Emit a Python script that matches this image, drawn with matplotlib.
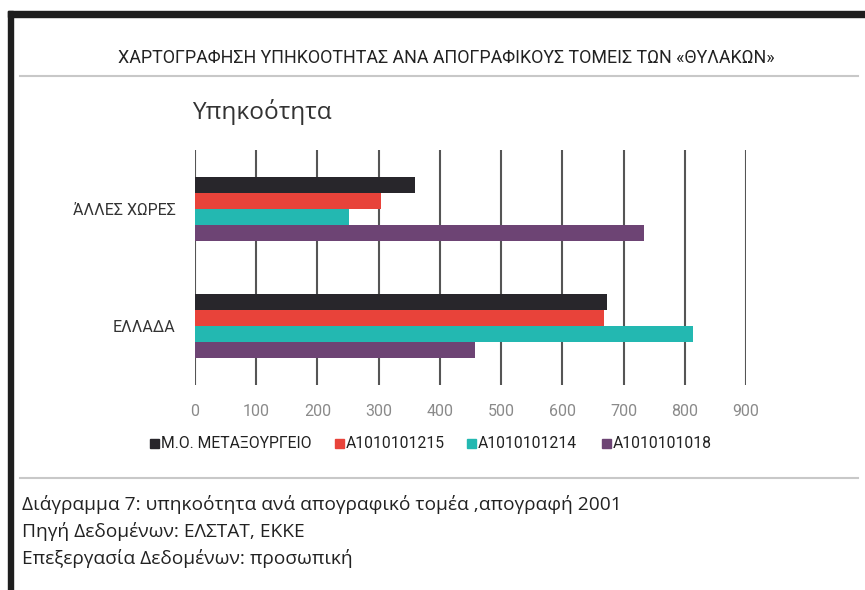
import matplotlib
matplotlib.use("Agg")
import matplotlib.pyplot as plt
from matplotlib.lines import Line2D
from matplotlib.patches import Rectangle
import numpy as np

# data
categories = ["ΕΛΛΑΔΑ", "ΆΛΛΕΣ ΧΩΡΕΣ"]
series_names = ["Μ.Ο. ΜΕΤΑΞΟΥΡΓΕΙΟ", "Α1010101215", "Α1010101214", "Α1010101018"]
metaxourgeio = [673, 360]
a1215 = [668, 304]
a1214 = [813, 252]
a1018 = [458, 734]
xticks = [0, 100, 200, 300, 400, 500, 600, 700, 800, 900]

colors = ["#28262b", "#e8433a", "#23b8b1", "#6d4474"]
narrow = ["Roboto", "DejaVu Sans"]
regular = ["Open Sans", "DejaVu Sans"]

fig = plt.figure(figsize=(8.65, 5.9), dpi=100)
W, H = 865, 590

def fx(px):
    return px / W

def fy(py):
    return 1 - py / H

# frame of the screenshot
fig.patches.append(Rectangle((fx(8), fy(17)), 1, 6 / H, transform=fig.transFigure,
                             color="#1e1e1e", zorder=0))
fig.patches.append(Rectangle((fx(8), 0), 5 / W, fy(11), transform=fig.transFigure,
                             color="#1e1e1e", zorder=0))
for yy in (76, 478):
    fig.add_artist(Line2D([fx(20), fx(858)], [fy(yy), fy(yy)], transform=fig.transFigure,
                          color="#c8c8c8", lw=1.5))

fig.text(fx(118), fy(58), "ΧΑΡΤΟΓΡΑΦΗΣΗ ΥΠΗΚΟΟΤΗΤΑΣ ΑΝΑ ΑΠΟΓΡΑΦΙΚΟΥΣ ΤΟΜΕΙΣ ΤΩΝ «ΘΥΛΑΚΩΝ»",
         ha="left", va="center", fontsize=12.85, family=narrow, color="#222222")
fig.text(fx(192), fy(112), "Υπηκοότητα", ha="left", va="center", fontsize=17.6,
         family=regular, color="#333333")

ax = fig.add_axes([fx(195), fy(385), fx(746) - fx(195), (385 - 150) / H])
h = 0.137
y = np.arange(len(categories))
vals = [metaxourgeio, a1215, a1214, a1018]
offsets = [1.5 * h, 0.5 * h, -0.5 * h, -1.5 * h]
for v, off, c, name in zip(vals, offsets, colors, series_names):
    ax.barh(y + off, v, height=h, color=c, label=name, zorder=2)

ax.set_xlim(0, 900)
ax.set_ylim(-0.5, 1.5)
ax.set_xticks(xticks)
ax.set_yticks(y)
ax.set_yticklabels(categories, family=narrow, fontsize=11.5, color="#333333")
ax.set_xticklabels([str(t) for t in xticks], family=narrow, fontsize=11.5, color="#8a8a8a")
ax.tick_params(axis="x", length=0, pad=14)
ax.tick_params(axis="y", length=0, pad=14)
ax.grid(axis="x", color="#555555", lw=1.5, zorder=1)
for s in ax.spines.values():
    s.set_visible(False)

# legend, placed like the reference
leg_x = [150, 335, 467, 602]
for px, c, name in zip(leg_x, colors, series_names):
    fig.patches.append(Rectangle((fx(px), fy(448)), 9 / W, 9 / H, transform=fig.transFigure,
                                 color=c))
    fig.text(fx(px + 11), fy(443), name, ha="left", va="center", fontsize=11.3,
             family=narrow, color="#222222")

captions = ["Διάγραμμα 7: υπηκοότητα ανά απογραφικό τομέα ,απογραφή 2001",
            "Πηγή Δεδομένων: ΕΛΣΤΑΤ, ΕΚΚΕ",
            "Επεξεργασία Δεδομένων: προσωπική"]
for i, c in enumerate(captions):
    fig.text(fx(22), fy(505 + 26.5 * i), c, ha="left", va="center", fontsize=13.75,
             family=regular, color="#222222")

fig.savefig("out.png", dpi=100)
